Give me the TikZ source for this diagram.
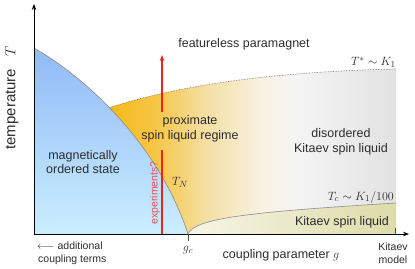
\documentclass[tikz,border=0pt]{standalone}
\usepackage{fontspec}
\setmainfont{Liberation Sans}
\usetikzlibrary{arrows.meta}
\definecolor{txt}{RGB}{45,45,45}
\definecolor{blueTop}{RGB}{145,186,247}
\definecolor{blueBot}{RGB}{202,238,255}
\definecolor{orA}{RGB}{245,185,25}
\definecolor{orB}{RGB}{246,198,70}
\definecolor{orC}{RGB}{244,224,165}
\definecolor{orD}{RGB}{248,242,228}
\definecolor{grE}{RGB}{244,244,244}
\definecolor{grF}{RGB}{226,226,226}
\definecolor{kitL}{RGB}{247,245,230}
\definecolor{kitR}{RGB}{220,220,170}
\definecolor{bnd}{RGB}{140,140,140}
\definecolor{redl}{RGB}{235,35,25}
\definecolor{redt}{RGB}{235,80,80}
\pgfdeclarehorizontalshading{pslshade}{100bp}{color(0bp)=(orA); color(25bp)=(orA); color(33bp)=(orB); color(42bp)=(orC); color(52bp)=(orD); color(58bp)=(grE); color(75bp)=(grF); color(100bp)=(grF)}
\tikzset{
  lbl/.style={font=\fontsize{12.5}{14.5}\selectfont, text=txt, inner sep=0pt, align=center},
  small/.style={font=\fontsize{10.5}{12.5}\selectfont, text=txt, inner sep=0pt, align=center},
  mathlbl/.style={font=\fontsize{12.5}{14.5}\selectfont, text=txt, inner sep=0pt},
  axis/.style={line width=0.9pt, black, -{Stealth[length=6pt,width=4.5pt]}},
  bline/.style={draw=bnd, line width=0.6pt},
}
\begin{document}
\begin{tikzpicture}[x=1pt,y=-1pt]
\useasboundingbox (0,0) rectangle (415,268);
% coordinates
\coordinate (O) at (34,234);
\coordinate (Ytop) at (34,4);
\coordinate (Xend) at (409,234);
\coordinate (A) at (34,48);
\coordinate (P) at (109.5,107.6);
\coordinate (gc) at (188,234);
\coordinate (R) at (396,69);
\coordinate (Q) at (396,203);
\coordinate (Qb) at (396,234);
% proximate / disordered region (left edge hidden under the ordered region)
\path[shading=pslshade] (P) .. controls (170,88) and (260,72) .. (R) -- (Q)
   .. controls (250,212) and (195,218) .. (gc) -- cycle;
% Kitaev spin liquid region
\path[left color=kitL, right color=kitR] (gc) .. controls (195,218) and (250,212) .. (Q) -- (Qb) -- cycle;
% ordered region
\path[top color=blueTop, bottom color=blueBot] (A) .. controls (90,80) and (160,148) .. (gc) -- (O) -- cycle;
% boundaries
\draw[bline] (A) .. controls (90,80) and (160,148) .. (gc);
\draw[bline] (gc) .. controls (195,218) and (250,212) .. (Q);
\draw[draw=gray!80!black, line width=0.6pt, densely dotted] (P) .. controls (170,88) and (260,72) .. (R);
% axes
\draw[axis] (O) -- (Ytop);
\draw[axis] (O) -- (Xend);
\coordinate (gct) at (188,241);
\draw[line width=0.7pt, black!70] (gc) -- (gct);
\coordinate (kt) at (395,228);
\coordinate (kb) at (395,234);
\draw[line width=0.7pt, black!70] (kb) -- (kt);
% red arrow
\coordinate (r0) at (162,234);
\coordinate (r1) at (162,150);
\coordinate (r2) at (162,112);
\coordinate (r3) at (162,55);
\draw[redl, line width=1.1pt] (r0) -- (r1);
\draw[redl, line width=1.1pt, -{Stealth[length=6pt,width=4.5pt]}] (r2) -- (r3);
\node[font=\fontsize{10.5}{12}\selectfont, text=redt, rotate=90, inner sep=0pt] (exp) at (155,193) {experiments?};
% labels
\node[lbl] (fp) at (244,44) {featureless paramagnet};
\node[lbl] (psl) at (190,129) {proximate\\spin liquid regime};
\node[lbl] (dksl) at (341,142) {disordered\\Kitaev spin liquid};
\node[lbl] (mos) at (83,162) {magnetically\\ordered state};
\node[lbl] (ksl) at (342,222) {Kitaev spin liquid};
\node[mathlbl] (tn) at (180,182) {$T_N$};
\node[mathlbl, anchor=east] (tstar) at (396,62) {$T^* \sim K_1$};
\node[mathlbl, anchor=east] (tc) at (394,197) {$T_c \sim K_1/100$};
\node[mathlbl] (gcl) at (188,250) {$g_c$};
\node[lbl] (cp) at (281,255) {coupling parameter $g$};
\node[small] (km) at (393,253) {Kitaev\\model};
\node[small, anchor=north west] (act) at (33,242) {$\longleftarrow$ additional\\\hspace*{5pt}coupling terms};
\node[font=\fontsize{15}{17}\selectfont, text=txt, rotate=90, inner sep=0pt] (temp) at (12,98) {temperature\hspace{12pt}$T$};
\end{tikzpicture}
\end{document}
